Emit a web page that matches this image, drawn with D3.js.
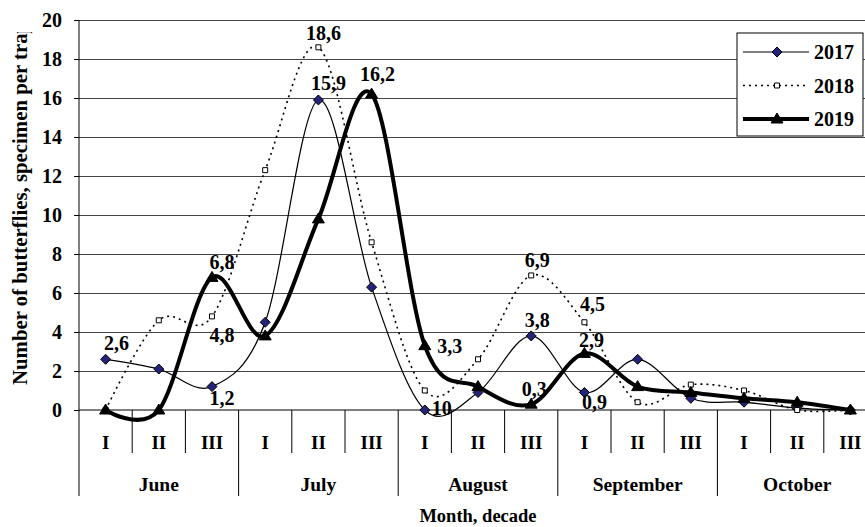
<!DOCTYPE html>
<html>
<head>
<meta charset="utf-8">
<script src="https://cdn.jsdelivr.net/npm/d3@7"></script>
<style>
  body { margin: 0; background: #fff; }
  svg { display: block; font-family: "Liberation Serif", "Times New Roman", serif; font-weight: bold; }
</style>
</head>
<body>
<svg width="865" height="527"></svg>
<script>
// decades within each month and the months themselves
var decades = ["I", "II", "III", "I", "II", "III", "I", "II", "III", "I", "II", "III", "I", "II", "III"]
var months = ["June", "July", "August", "September", "October"]
var years = ["2017", "2018", "2019"]
var yTicks = [0, 2, 4, 6, 8, 10, 12, 14, 16, 18, 20]

// butterflies per trap, by decade
var v2017 = [2.6, 2.1, 1.2, 4.5, 15.9, 6.3, 0, 0.9, 3.8, 0.9, 2.6, 0.6, 0.4, 0.1, 0]
var v2018 = [0, 4.6, 4.8, 12.3, 18.6, 8.6, 1.0, 2.6, 6.9, 4.5, 0.4, 1.3, 1.0, 0, 0]
var v2019 = [0, 0, 6.8, 3.8, 9.8, 16.2, 3.3, 1.2, 0.3, 2.9, 1.2, 0.9, 0.6, 0.4, 0]

// which points carry a value label
var labelled = [
  {year: "2017", i: 0}, {year: "2017", i: 2}, {year: "2019", i: 2}, {year: "2018", i: 2},
  {year: "2017", i: 4}, {year: "2018", i: 4}, {year: "2019", i: 5}, {year: "2019", i: 6},
  {year: "2018", i: 6, text: "10"}, {year: "2017", i: 8}, {year: "2019", i: 8}, {year: "2018", i: 8},
  {year: "2018", i: 9}, {year: "2019", i: 9}, {year: "2017", i: 9}
]
// label offsets from the point (same order)
var labelOffsets = [[11, -16], [10, 11], [10, -15], [10, 19], [10, -17], [5, -14], [6, -20], [25, 0],
  [17, 17], [6, -16], [3, -15], [6, -15], [8, -18], [7, -13], [10, 10]]

var values = {"2017": v2017, "2018": v2018, "2019": v2019}

var svg = d3.select("svg")
var pLeft = 79, pRight = 877, pTop = 20, pBottom = 410

var x = d3.scaleBand().domain(d3.range(decades.length)).range([pLeft, pRight])
var cx = function(i) { return x(i) + x.bandwidth() / 2 }
var y = d3.scaleLinear().domain([0, 20]).range([pBottom, pTop])

// gridlines
svg.append("g")
  .attr("transform", "translate(" + pLeft + ",0)")
  .call(d3.axisLeft(y).tickValues(yTicks.slice(1)).tickSize(-(pRight - pLeft)).tickFormat(""))
  .call(function(g) {
    g.select(".domain").remove()
    g.selectAll("line").attr("stroke", "#444")
  })

// y axis
svg.append("g")
  .attr("transform", "translate(" + pLeft + ",0)")
  .call(d3.axisLeft(y).tickValues(yTicks).tickSize(5).tickPadding(12))
  .call(function(g) {
    g.select(".domain").remove()
    g.selectAll("line").attr("stroke", "#000")
    g.selectAll("text").attr("font-size", 20).attr("font-family", "Liberation Serif").attr("font-weight", "bold").attr("fill", "#000")
  })

svg.append("line").attr("x1", pLeft).attr("x2", pLeft).attr("y1", pTop).attr("y2", 496).attr("stroke", "#000")
svg.append("line").attr("x1", pLeft).attr("x2", pRight).attr("y1", pBottom).attr("y2", pBottom).attr("stroke", "#000")

// category axis: decades then months
var xa = svg.append("g")
d3.range(1, decades.length + 1).forEach(function(i) {
  var xx = x(i - 1) + x.bandwidth()
  xa.append("line").attr("x1", xx).attr("x2", xx)
    .attr("y1", pBottom).attr("y2", i % 3 == 0 ? 496 : 453)
    .attr("stroke", "#000")
})
xa.selectAll(".dec").data(decades).enter().append("text")
  .attr("x", function(d, i) { return cx(i) })
  .attr("y", 442).attr("dy", "0.35em")
  .attr("text-anchor", "middle").attr("font-size", 19)
  .text(function(d) { return d })
xa.selectAll(".mon").data(months).enter().append("text")
  .attr("x", function(d, i) { return x(i * 3) + x.bandwidth() * 1.5 })
  .attr("y", 484).attr("dy", "0.35em")
  .attr("text-anchor", "middle").attr("font-size", 19.5)
  .text(function(d) { return d })

svg.append("text").attr("x", (pLeft + pRight) / 2).attr("y", 516).attr("dy", "0.35em")
  .attr("text-anchor", "middle").attr("font-size", 18.5).text("Month, decade")

// y title, clipped at the top like the original
svg.append("clipPath").attr("id", "ttl").append("rect").attr("x", 0).attr("y", 32).attr("width", 60).attr("height", 400)
svg.append("g").attr("clip-path", "url(#ttl)")
  .append("text")
  .attr("transform", "translate(27,385) rotate(-90)")
  .attr("font-family", "Liberation Serif").attr("font-weight", "bold")
  .attr("font-size", 20.8).text("Number of butterflies, specimen per trap")

// series
var style = {
  "2017": {w: 1.2, dash: null},
  "2018": {w: 1.6, dash: "2,4"},
  "2019": {w: 4, dash: null}
}
var line = d3.line()
  .x(function(d, i) { return cx(i) })
  .y(function(d) { return y(d) })
  .curve(d3.curveCardinal.tension(0))

var marker = {
  "2017": "M0,-5L5,0L0,5L-5,0Z",
  "2018": "M-2.5,-2.5H2.5V2.5H-2.5Z",
  "2019": "M0,-6L6,4L-6,4Z"
}
var markerFill = {"2017": "#23237a", "2018": "#fff", "2019": "#000"}

years.forEach(function(yr) {
  svg.append("path").datum(values[yr])
    .attr("d", line)
    .attr("fill", "none").attr("stroke", "#000")
    .attr("stroke-width", style[yr].w)
    .attr("stroke-dasharray", style[yr].dash)
})
years.forEach(function(yr) {
  svg.selectAll(".m" + yr).data(values[yr]).enter().append("path")
    .attr("d", marker[yr])
    .attr("transform", function(d, i) { return "translate(" + cx(i) + "," + y(d) + ")" })
    .attr("fill", markerFill[yr]).attr("stroke", "#000").attr("stroke-width", 1)
})

// value labels
var fmt = function(v) { return d3.format(".1f")(v).replace(".", ",") }
svg.selectAll(".lbl").data(labelled).enter().append("text")
  .attr("x", function(d, k) { return cx(d.i) + labelOffsets[k][0] })
  .attr("y", function(d, k) { return y(values[d.year][d.i]) + labelOffsets[k][1] })
  .attr("dy", "0.35em").attr("text-anchor", "middle").attr("font-size", 20)
  .text(function(d) { return d.text || fmt(values[d.year][d.i]) })

// legend
var lg = svg.append("g").attr("transform", "translate(737,33)")
lg.append("rect").attr("width", 126).attr("height", 103).attr("fill", "#fff").attr("stroke", "#000")
years.forEach(function(yr, k) {
  var ly = 19 + k * 33.5
  lg.append("line").attr("x1", 6).attr("x2", 72).attr("y1", ly).attr("y2", ly)
    .attr("stroke", "#000").attr("stroke-width", style[yr].w).attr("stroke-dasharray", style[yr].dash)
  lg.append("path").attr("d", marker[yr]).attr("transform", "translate(40," + ly + ")")
    .attr("fill", markerFill[yr]).attr("stroke", "#000")
  lg.append("text").attr("x", 77).attr("y", ly).attr("dy", "0.35em").attr("font-size", 20).text(yr)
})
</script>
</body>
</html>
